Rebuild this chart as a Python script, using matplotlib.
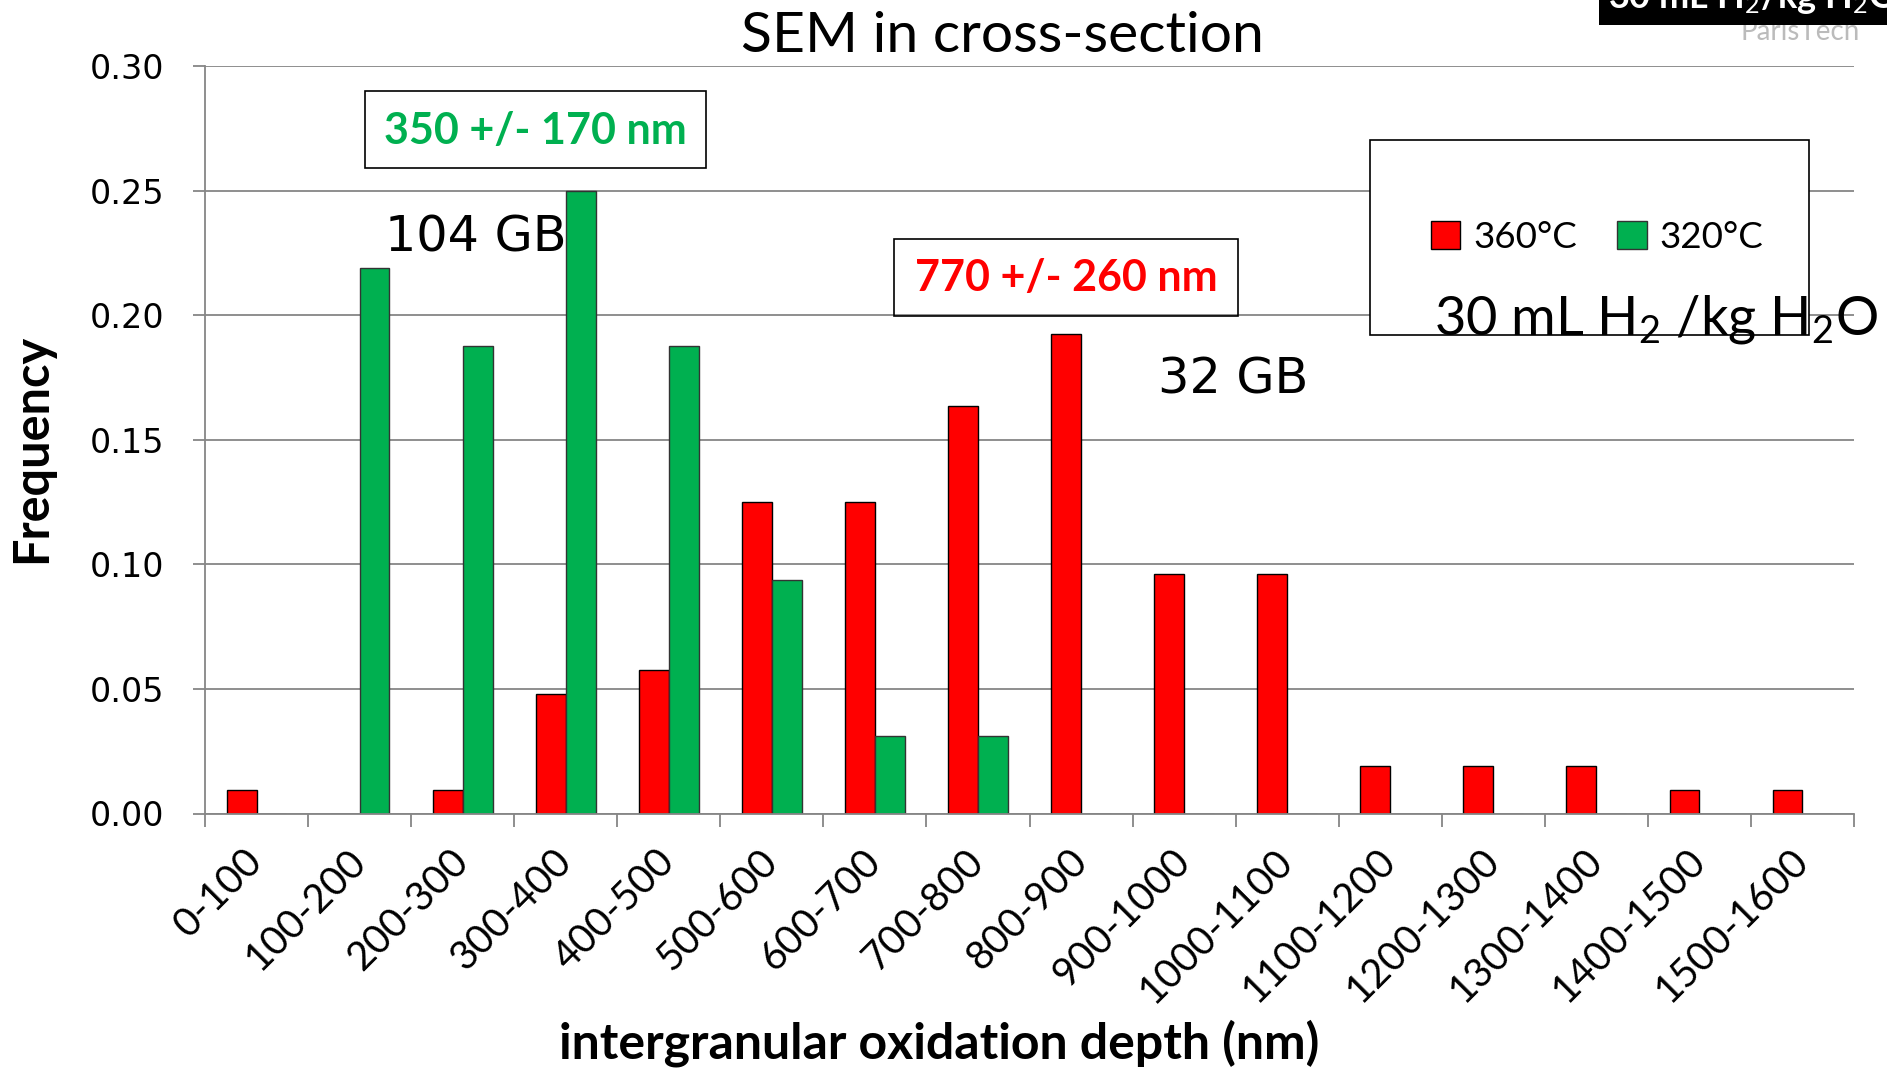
import numpy as np
import matplotlib
matplotlib.use("Agg")
import matplotlib.pyplot as plt
from matplotlib.patches import Rectangle

# depth bins (nm)
bins = ["0-100", "100-200", "200-300", "300-400", "400-500", "500-600",
        "600-700", "700-800", "800-900", "900-1000", "1000-1100", "1100-1200",
        "1200-1300", "1300-1400", "1400-1500", "1500-1600"]

# frequencies per bin
freq_360 = [0.0096, 0.0, 0.0096, 0.048, 0.0577, 0.125, 0.125, 0.1635,
            0.1923, 0.0962, 0.0962, 0.0192, 0.0192, 0.0192, 0.0096, 0.0096]
freq_320 = [0.0, 0.2188, 0.1875, 0.25, 0.1875, 0.0938, 0.0313, 0.0313,
            0.0, 0.0, 0.0, 0.0, 0.0, 0.0, 0.0, 0.0]

yticks = [0.0, 0.05, 0.10, 0.15, 0.20, 0.25, 0.30]

RED = "#FF0000"
GREEN = "#00B050"
GRID = "#868686"
W, H = 1887, 1070
SANS = "Lato"

plt.rcParams["mathtext.fontset"] = "custom"
plt.rcParams["mathtext.rm"] = SANS
plt.rcParams["mathtext.it"] = SANS + ":italic"


def fx(px):
    return px / W


def fy(py):
    return 1 - py / H


fig = plt.figure(figsize=(W / 100, H / 100), dpi=100)
ax = fig.add_axes([fx(205), fy(813.5), fx(1854) - fx(205), fy(66) - fy(813.5)])

x = np.arange(len(bins))
w = 0.29
b1 = ax.bar(x - w / 2, freq_360, w, color=RED, edgecolor="black", linewidth=1.0, label="360°C")
b2 = ax.bar(x + w / 2, freq_320, w, color=GREEN, edgecolor="#333333", linewidth=1.0, label="320°C")

ax.set_xlim(-0.5, len(bins) - 0.5)
ax.set_ylim(0, 0.30)
ax.set_axisbelow(True)
ax.yaxis.grid(True, color=GRID, linewidth=1.3)

for s in ["top", "right"]:
    ax.spines[s].set_visible(False)
for s in ["left", "bottom"]:
    ax.spines[s].set_color(GRID)
    ax.spines[s].set_linewidth(1.3)

ax.set_yticks(yticks)
ax.set_yticklabels([f"{v:.2f}" for v in yticks], fontsize=24, family="DejaVu Sans")
ax.tick_params(axis="y", direction="out", length=9, width=1.3, color=GRID, pad=20)

ax.set_xticks(np.arange(-0.5, len(bins)))
ax.set_xticklabels([])
ax.set_xticks(x, minor=True)
ax.set_xticklabels(bins, minor=True, rotation=45, ha="right", va="center",
                   rotation_mode="anchor", fontsize=28.5, family=SANS)
ax.tick_params(axis="x", which="major", direction="out", length=9, width=1.3, color=GRID)
ax.tick_params(axis="x", which="minor", length=0, pad=30)

# titles
fig.text(fx(1002), fy(36), "SEM in cross-section", ha="center", va="center",
         fontsize=41, family=SANS)
fig.text(fx(939), fy(1043), "intergranular oxidation depth (nm)", ha="center",
         va="center", fontsize=36, weight="bold", family=SANS)
fig.text(fx(32), fy(448), "Frequency", ha="center", va="center", rotation=90,
         fontsize=35, weight="bold", family=SANS)

# mean depth boxes
fig.patches.append(Rectangle((fx(365), fy(168)), fx(706) - fx(365), fy(91) - fy(168),
                             transform=fig.transFigure, fill=False, edgecolor="black", lw=1.2))
fig.text(fx(535), fy(131), "350 +/- 170 nm", ha="center", va="center",
         fontsize=31, weight="bold", color=GREEN, family=SANS)
fig.patches.append(Rectangle((fx(894), fy(316)), fx(1238) - fx(894), fy(239) - fy(316),
                             transform=fig.transFigure, fill=False, edgecolor="black", lw=1.2))
fig.text(fx(1066), fy(278), "770 +/- 260 nm", ha="center", va="center",
         fontsize=31, weight="bold", color=RED, family=SANS)

fig.text(fx(385), fy(237), "104 GB", ha="left", va="center", fontsize=35.5, family="DejaVu Sans")
fig.text(fx(1158), fy(379), "32 GB", ha="left", va="center", fontsize=35.5, family="DejaVu Sans")

# legend box
fig.patches.append(Rectangle((fx(1370), fy(335)), fx(1809) - fx(1370), fy(140) - fy(335),
                             transform=fig.transFigure, facecolor="white",
                             edgecolor="black", lw=1.2, zorder=3))
leg = fig.legend(handles=[b1, b2], loc="center", bbox_to_anchor=(fx(1597), fy(237)),
                 ncol=2, frameon=False, handlelength=0.8, handleheight=0.8,
                 handletextpad=0.35, columnspacing=1.1, prop={"family": SANS, "size": 26.5})
leg.set_zorder(4)
fig.text(fx(1434), fy(335), "30 mL H$_2$ /kg H$_2$O", ha="left", va="baseline",
         fontsize=39, family=SANS, zorder=5)

# header strip, top right
fig.text(fx(1800), fy(40), "ParisTech", ha="center", va="baseline", fontsize=20,
         color="#BBBBBB", family=SANS)
fig.patches.append(Rectangle((fx(1599), fy(25)), fx(1887) - fx(1599), fy(0) - fy(25),
                             transform=fig.transFigure, facecolor="black",
                             edgecolor="none", zorder=6))
fig.text(fx(1753), fy(8), "30 mL H$_2$/kg H$_2$O", ha="center", va="baseline",
         fontsize=26, weight="bold", color="white", family=SANS, zorder=7)

fig.savefig("out.png", dpi=100)
